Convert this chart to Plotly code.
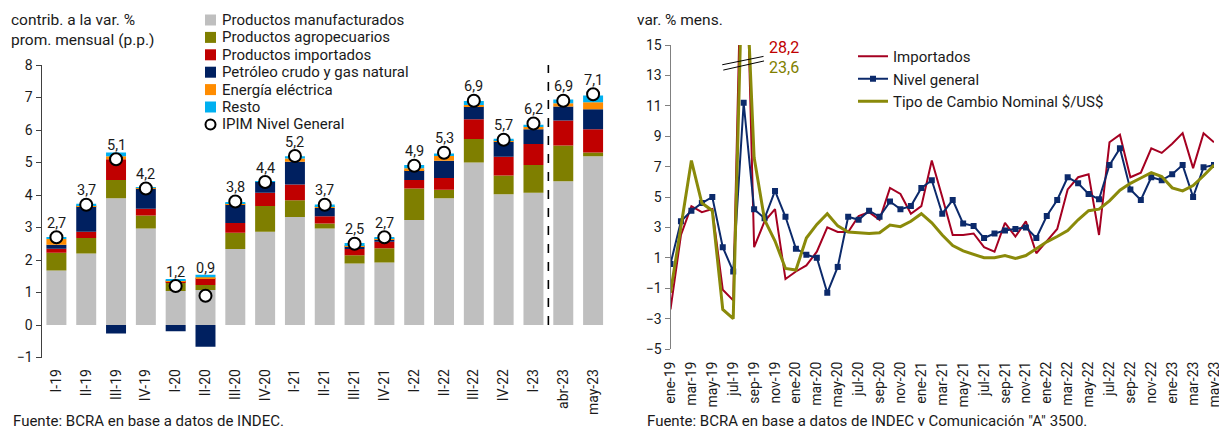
import plotly.graph_objects as go

# ---------------- data: contributions to IPIM (left panel) ----------------
cats = ['I-19', 'II-19', 'III-19', 'IV-19', 'I-20', 'II-20', 'III-20', 'IV-20',
        'I-21', 'II-21', 'III-21', 'IV-21', 'I-22', 'II-22', 'III-22', 'IV-22',
        'I-23', 'abr-23', 'may-23']
manufacturados = [1.68, 2.20, 3.90, 2.97, 1.05, 1.08, 2.34, 2.87, 3.32, 2.97,
                  1.89, 1.92, 3.23, 3.90, 5.00, 4.02, 4.07, 4.42, 5.19]
agropecuarios = [0.54, 0.48, 0.56, 0.40, 0.26, 0.15, 0.50, 0.79, 0.52, 0.15,
                 0.26, 0.44, 0.97, 0.26, 0.72, 0.58, 0.85, 1.10, 0.12]
importados_c = [0.13, 0.19, 0.64, 0.21, 0.04, 0.21, 0.30, 0.41, 0.48, 0.23,
                0.19, 0.20, 0.26, 0.36, 0.61, 0.58, 0.65, 0.77, 0.71]
petroleo = [0.12, 0.79, -0.26, 0.63, -0.19, -0.67, 0.57, 0.33, 0.70, 0.25,
            0.08, 0.07, 0.30, 0.53, 0.39, 0.46, 0.45, 0.43, 0.62]
energia = [0.18, 0.03, 0.09, 0.01, 0.02, 0.03, 0.02, 0.01, 0.10, 0.06,
           0.04, 0.03, 0.06, 0.17, 0.05, 0.03, 0.08, 0.10, 0.21]
resto = [0.03, 0.04, 0.12, 0.01, 0.02, 0.08, 0.05, 0.01, 0.07, 0.05,
         0.06, 0.04, 0.10, 0.06, 0.12, 0.06, 0.06, 0.12, 0.21]
ipim_general = [2.7, 3.7, 5.1, 4.2, 1.2, 0.9, 3.8, 4.4, 5.2, 3.7,
                2.5, 2.7, 4.9, 5.3, 6.9, 5.7, 6.2, 6.9, 7.1]

# ---------------- data: monthly % change (right panel) ----------------
mes_abrev = ['ene', 'feb', 'mar', 'abr', 'may', 'jun',
             'jul', 'ago', 'sep', 'oct', 'nov', 'dic']
anios = ['19', '20', '21', '22', '23']
meses = [f"{m}-{a}" for a in anios for m in mes_abrev][:53]  # ene-19 .. may-23

importados = [-2.4, 2.5, 4.4, 4.0, 4.2, -1.1, -1.8, 28.2, 1.7, 3.4, 4.2, -0.4,
              0.1, 0.5, 1.4, 3.0, 2.7, 2.7, 3.75, 4.0, 3.5, 5.6, 5.2, 3.9,
              4.4, 7.4, 5.0, 2.5, 2.5, 2.6, 1.7, 1.4, 3.3, 2.4, 3.4, 1.3,
              2.1, 2.9, 5.5, 6.3, 6.5, 2.5, 8.6, 9.1, 6.3, 6.6, 8.2, 7.9,
              8.5, 9.2, 6.9, 9.2, 8.6]
nivel_general = [0.6, 3.4, 4.1, 4.6, 5.0, 1.7, 0.1, 11.2, 4.2, 3.6, 5.4, 3.7,
                 1.6, 1.2, 1.0, -1.3, 0.4, 3.7, 3.5, 4.1, 3.7, 4.7, 4.2, 4.4,
                 5.6, 6.1, 3.9, 4.8, 3.25, 3.1, 2.3, 2.6, 2.8, 2.9, 3.0, 2.3,
                 3.75, 4.8, 6.3, 5.9, 5.2, 4.85, 7.1, 8.2, 5.5, 4.8, 6.3, 6.1,
                 6.5, 7.1, 5.0, 6.95, 7.1]
tipo_cambio = [-1.3, 3.0, 7.4, 4.6, 4.1, -2.4, -3.0, 23.6, 7.6, 3.5, 2.1, 0.3,
               0.2, 2.3, 3.2, 3.9, 3.1, 2.7, 2.65, 2.6, 2.65, 3.15, 3.05, 3.4,
               3.9, 3.3, 2.5, 1.8, 1.45, 1.25, 1.0, 1.0, 1.15, 0.95, 1.15, 1.6,
               2.05, 2.4, 2.8, 3.5, 4.1, 4.2, 4.75, 5.45, 5.9, 6.25, 6.6, 6.35,
               5.6, 5.4, 5.75, 6.4, 7.1]

# ---------------- styling ----------------
W, H = 1219, 426
FONT = "Roboto"
TXT = "#1a1a1a"
C_MANUF = "#BFBFBF"
C_AGRO = "#7F7F00"
C_IMPO = "#C00000"
C_PETRO = "#002060"
C_ENER = "#FF8C00"
C_RESTO = "#00B0F0"
C_LINE_IMP = "#A50021"
C_LINE_NG = "#0C2A6B"
C_LINE_TC = "#8A8A0A"


def px_x(p):
    return p / W


def px_y(p):
    return 1 - p / H


def comma(v):
    return f"{v:.1f}".replace('.', ',')


# plot-area domains (paper fractions)
L_DOM_X = [px_x(41.5), px_x(608)]
L_DOM_Y = [px_y(357.5), px_y(65)]
R_DOM_X = [px_x(670.5), px_x(1214)]
R_DOM_Y = [px_y(349), px_y(45)]
L_RANGE = [-1, 8]
R_RANGE = [-5, 15]
L_PX_PER_UNIT = (357.5 - 65) / (L_RANGE[1] - L_RANGE[0])


def zero_pos(dom, rng):
    return dom[0] + (0 - rng[0]) / (rng[1] - rng[0]) * (dom[1] - dom[0])


fig = go.Figure()

# stacked contributions
bar_series = [
    ("Productos manufacturados", manufacturados, C_MANUF),
    ("Productos agropecuarios", agropecuarios, C_AGRO),
    ("Productos importados", importados_c, C_IMPO),
    ("Petróleo crudo y gas natural", petroleo, C_PETRO),
    ("Energía eléctrica", energia, C_ENER),
    ("Resto", resto, C_RESTO),
]
for name, vals, col in bar_series:
    fig.add_trace(go.Bar(
        x=cats, y=vals, name=name, marker=dict(color=col, line=dict(width=0)),
        xaxis='x', yaxis='y', showlegend=False, hoverinfo='skip'))

fig.add_trace(go.Scatter(
    x=cats, y=ipim_general, mode='markers', name='IPIM Nivel General',
    marker=dict(size=12, color='white', line=dict(color='black', width=2)),
    cliponaxis=False, xaxis='x', yaxis='y', showlegend=False))

# value labels: above the circle, or above the stack when the stack is taller
stack_top = [sum(max(s[1][k], 0) for s in bar_series) for k in range(len(cats))]
for k, c in enumerate(cats):
    y_lab = max(ipim_general[k] + 14 / L_PX_PER_UNIT,
                stack_top[k] + 6 / L_PX_PER_UNIT)
    fig.add_annotation(x=c, y=y_lab, xref='x', yref='y', yanchor='middle',
                       text=comma(ipim_general[k]), showarrow=False,
                       font=dict(family=FONT, size=14.5, color=TXT))

# legend of the left panel (symbol + label per row)
LEG_X, LEG_Y0, LEG_DY, LEG_S = 205, 20, 17.4, 11
legend_rows = [(n, c) for n, _, c in bar_series] + [('IPIM Nivel General', None)]
for r, (name, col) in enumerate(legend_rows):
    yc = LEG_Y0 + r * LEG_DY
    if col is not None:
        fig.add_shape(type='rect', xref='paper', yref='paper',
                      x0=px_x(LEG_X), x1=px_x(LEG_X + LEG_S),
                      y0=px_y(yc + LEG_S / 2), y1=px_y(yc - LEG_S / 2),
                      fillcolor=col, line=dict(width=0))
    else:
        fig.add_shape(type='circle', xref='paper', yref='paper',
                      x0=px_x(LEG_X + 0.5), x1=px_x(LEG_X + LEG_S - 0.5),
                      y0=px_y(yc + LEG_S / 2 - 0.5), y1=px_y(yc - LEG_S / 2 + 0.5),
                      fillcolor='white', line=dict(color='black', width=2))
    fig.add_annotation(x=px_x(LEG_X + LEG_S + 4), y=px_y(yc), xref='paper',
                       yref='paper', xanchor='left', yanchor='middle',
                       text=name, showarrow=False,
                       font=dict(family=FONT, size=15, color=TXT))

# monthly lines
fig.add_trace(go.Scatter(
    x=meses, y=importados, mode='lines', name='Importados',
    line=dict(color=C_LINE_IMP, width=2), xaxis='x2', yaxis='y2',
    legend='legend2', legendgroup="l0"))
fig.add_trace(go.Scatter(
    x=meses, y=nivel_general, mode='lines+markers', name='Nivel general',
    line=dict(color=C_LINE_NG, width=2),
    marker=dict(symbol='square', size=6, color=C_LINE_NG),
    xaxis='x2', yaxis='y2', legend='legend2', legendgroup="l1"))
fig.add_trace(go.Scatter(
    x=meses, y=tipo_cambio, mode='lines', name='Tipo de Cambio Nominal $/US$',
    line=dict(color=C_LINE_TC, width=3), xaxis='x2', yaxis='y2',
    legend='legend2', legendgroup="l2"))

axis_font = dict(family=FONT, size=14, color=TXT)

fig.update_layout(
    width=W, height=H, autosize=False, template='none',
    margin=dict(l=0, r=0, t=0, b=0, pad=0),
    paper_bgcolor='white', plot_bgcolor='rgba(0,0,0,0)',
    font=dict(family=FONT, size=14, color=TXT),
    separators=',.',
    barmode='relative', bargap=0.33,
    showlegend=True,
    xaxis=dict(domain=L_DOM_X, anchor='y', type='category',
               range=[-0.5, len(cats) - 0.5], tickangle=-90,
               ticks='outside', ticklen=5, tickcolor='rgba(0,0,0,0)',
               showline=False, showgrid=False, zeroline=False,
               tickfont=axis_font, automargin=False),
    yaxis=dict(domain=L_DOM_Y, anchor='x', range=L_RANGE, dtick=1,
               ticks='outside', ticklen=5, tickcolor='#404040',
               showline=True, linecolor='#404040', linewidth=1,
               showgrid=False, zeroline=False, tickfont=axis_font,
               automargin=False),
    # zero line of the left panel with ticks between categories
    xaxis3=dict(overlaying='x', anchor='free',
                position=zero_pos(L_DOM_Y, L_RANGE), domain=L_DOM_X,
                range=[-0.5, len(cats) - 0.5],
                tickmode='array', tickvals=[k + 0.5 for k in range(len(cats))],
                ticks='outside', ticklen=6, tickcolor='#404040',
                showticklabels=False, showline=True, linecolor='#404040',
                linewidth=1, showgrid=False, zeroline=False, automargin=False),
    xaxis2=dict(domain=R_DOM_X, anchor='y2', type='category',
                range=[0, len(meses) - 1], tickmode='array',
                tickvals=meses[::2], ticktext=meses[::2], tickangle=-90,
                ticks='outside', ticklen=6, tickcolor='rgba(0,0,0,0)',
                showline=False, showgrid=False, zeroline=False,
                tickfont=axis_font, automargin=False),
    yaxis2=dict(domain=R_DOM_Y, anchor='x2', range=R_RANGE,
                tickmode='array', tickvals=list(range(-5, 16, 2)),
                ticks='outside', ticklen=5, tickcolor='#808080',
                showline=True, linecolor='#808080', linewidth=1,
                showgrid=False, zeroline=False, tickfont=axis_font,
                automargin=False),
    # zero line of the right panel with bimonthly ticks
    xaxis4=dict(overlaying='x2', anchor='free',
                position=zero_pos(R_DOM_Y, R_RANGE), domain=R_DOM_X,
                range=[0, len(meses) - 1], tickmode='array',
                tickvals=list(range(2, len(meses), 2)),
                ticks='inside', ticklen=5, tickcolor='#808080',
                showticklabels=False, showline=True, linecolor='#808080',
                linewidth=1.5, showgrid=False, zeroline=False, automargin=False),
    legend2=dict(x=px_x(853), y=px_y(40), xanchor='left', yanchor='top',
                 bgcolor='rgba(0,0,0,0)', font=dict(family=FONT, size=15, color=TXT),
                 traceorder='normal', tracegroupgap=2, itemclick=False),
)

# vertical dashed separator between quarterly and monthly data
fig.add_shape(type='line', xref='x', yref='y', x0=16.5, x1=16.5, y0=0, y1=8.2,
              line=dict(color='black', width=1.6, dash='dash'))

# axis-break marks on the right panel
fig.add_shape(type='line', xref='x2', yref='y2', x0=4.95, x1=8.9, y0=13.7, y1=14.25,
              line=dict(color='black', width=1))
fig.add_shape(type='line', xref='x2', yref='y2', x0=5.05, x1=8.95, y0=13.35, y1=13.95,
              line=dict(color='black', width=1))

# off-scale values
pico = importados.index(max(importados))
fig.add_annotation(x=9.2, y=14.85, xref='x2', yref='y2', xanchor='left',
                   text=comma(importados[pico]), showarrow=False,
                   font=dict(family=FONT, size=16, color=C_IMPO))
fig.add_annotation(x=9.2, y=13.55, xref='x2', yref='y2', xanchor='left',
                   text=comma(tipo_cambio[pico]), showarrow=False,
                   font=dict(family=FONT, size=16, color=C_AGRO))

# titles and sources
fig.add_annotation(x=px_x(9), y=px_y(9), xref='paper', yref='paper',
                   xanchor='left', yanchor='top', align='left', showarrow=False,
                   text="contrib. a la var. %<br>prom. mensual (p.p.)",
                   font=dict(family=FONT, size=15.5, color=TXT))
fig.add_annotation(x=px_x(635), y=px_y(9), xref='paper', yref='paper',
                   xanchor='left', yanchor='top', align='left', showarrow=False,
                   text="var. % mens.", font=dict(family=FONT, size=15.5, color=TXT))
fig.add_annotation(x=px_x(11), y=px_y(410), xref='paper', yref='paper',
                   xanchor='left', yanchor='top', showarrow=False,
                   text="Fuente: BCRA en base a datos de INDEC.",
                   font=dict(family=FONT, size=15, color=TXT))
fig.add_annotation(x=px_x(645), y=px_y(410), xref='paper', yref='paper',
                   xanchor='left', yanchor='top', showarrow=False,
                   text='Fuente: BCRA en base a datos de INDEC y Comunicación "A" 3500.',
                   font=dict(family=FONT, size=15, color=TXT))

fig.write_html("out.html")
